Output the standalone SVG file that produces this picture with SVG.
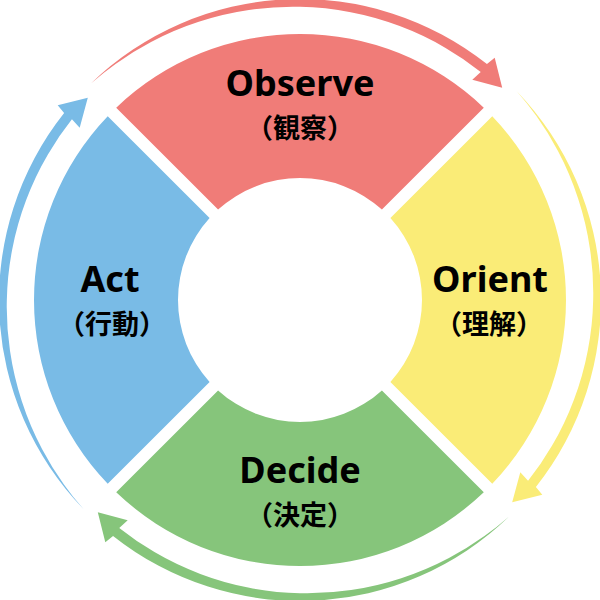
<svg xmlns="http://www.w3.org/2000/svg" xmlns:xlink="http://www.w3.org/1999/xlink" width="600" height="600" viewBox="0 0 600 600">
  <style>
    .en { font-family: "Noto Sans", "Open Sans", sans-serif; font-weight: 700; font-size: 36px; text-anchor: middle; fill: #000; }
    .ja { font-family: "Noto Sans CJK JP", sans-serif; font-weight: 700; font-size: 27px; text-anchor: middle; fill: #000; }
    .red { fill: #F07C78; }
    .yellow { fill: #FAEC77; }
    .green { fill: #86C57B; }
    .blue { fill: #79BBE6; }
  </style>
  <defs>
    <path id="arrow" d="M90.90,83.49 A301,301 0 0 1 486.95,64.11 L494.7,57.7 L502.2,87.8 L472.3,79.7 L480.74,71.94 A291,291 0 0 0 445.55,47.91 A291.3,291.3 0 0 0 399.69,26.08 A291.8,291.8 0 0 0 350.72,12.25 A292.7,292.7 0 0 0 300,6.83 A293.8,293.8 0 0 0 248.88,10.03 A295.2,295.2 0 0 0 198.76,21.83 A297,297 0 0 0 151.05,42.02 A298.7,298.7 0 0 0 115.54,63.92 A300.3,300.3 0 0 0 90.90,83.49 Z"/>
  </defs>
  <rect width="600" height="600" fill="#fff"/>
  <g id="connectors">
    <use href="#arrow" xlink:href="#arrow" class="red"/>
    <use href="#arrow" xlink:href="#arrow" class="yellow" transform="rotate(90 300 300)"/>
    <use href="#arrow" xlink:href="#arrow" class="green" transform="rotate(180 300 300)"/>
    <use href="#arrow" xlink:href="#arrow" class="blue" transform="rotate(270 300 300)"/>
  </g>
  <g id="observe">
    <path class="red" d="M116.20,107.72 A266,266 0 0 1 483.80,107.72 L381.92,209.60 A122,122 0 0 0 218.08,209.60 Z"/>
    <text class="en" x="300" y="96">Observe</text>
    <text class="ja" x="300" y="138">（観察）</text>
  </g>
  <g id="orient">
    <path class="yellow" d="M492.28,116.20 A266,266 0 0 1 492.28,483.80 L390.40,381.92 A122,122 0 0 0 390.40,218.08 Z"/>
    <text class="en" x="490" y="292">Orient</text>
    <text class="ja" x="489" y="334">（理解）</text>
  </g>
  <g id="decide">
    <path class="green" d="M483.80,492.28 A266,266 0 0 1 116.20,492.28 L218.08,390.40 A122,122 0 0 0 381.92,390.40 Z"/>
    <text class="en" x="300" y="483">Decide</text>
    <text class="ja" x="300" y="525">（決定）</text>
  </g>
  <g id="act">
    <path class="blue" d="M107.72,483.80 A266,266 0 0 1 107.72,116.20 L209.60,218.08 A122,122 0 0 0 209.60,381.92 Z"/>
    <text class="en" x="110" y="292">Act</text>
    <text class="ja" x="112" y="334">（行動）</text>
  </g>
</svg>
